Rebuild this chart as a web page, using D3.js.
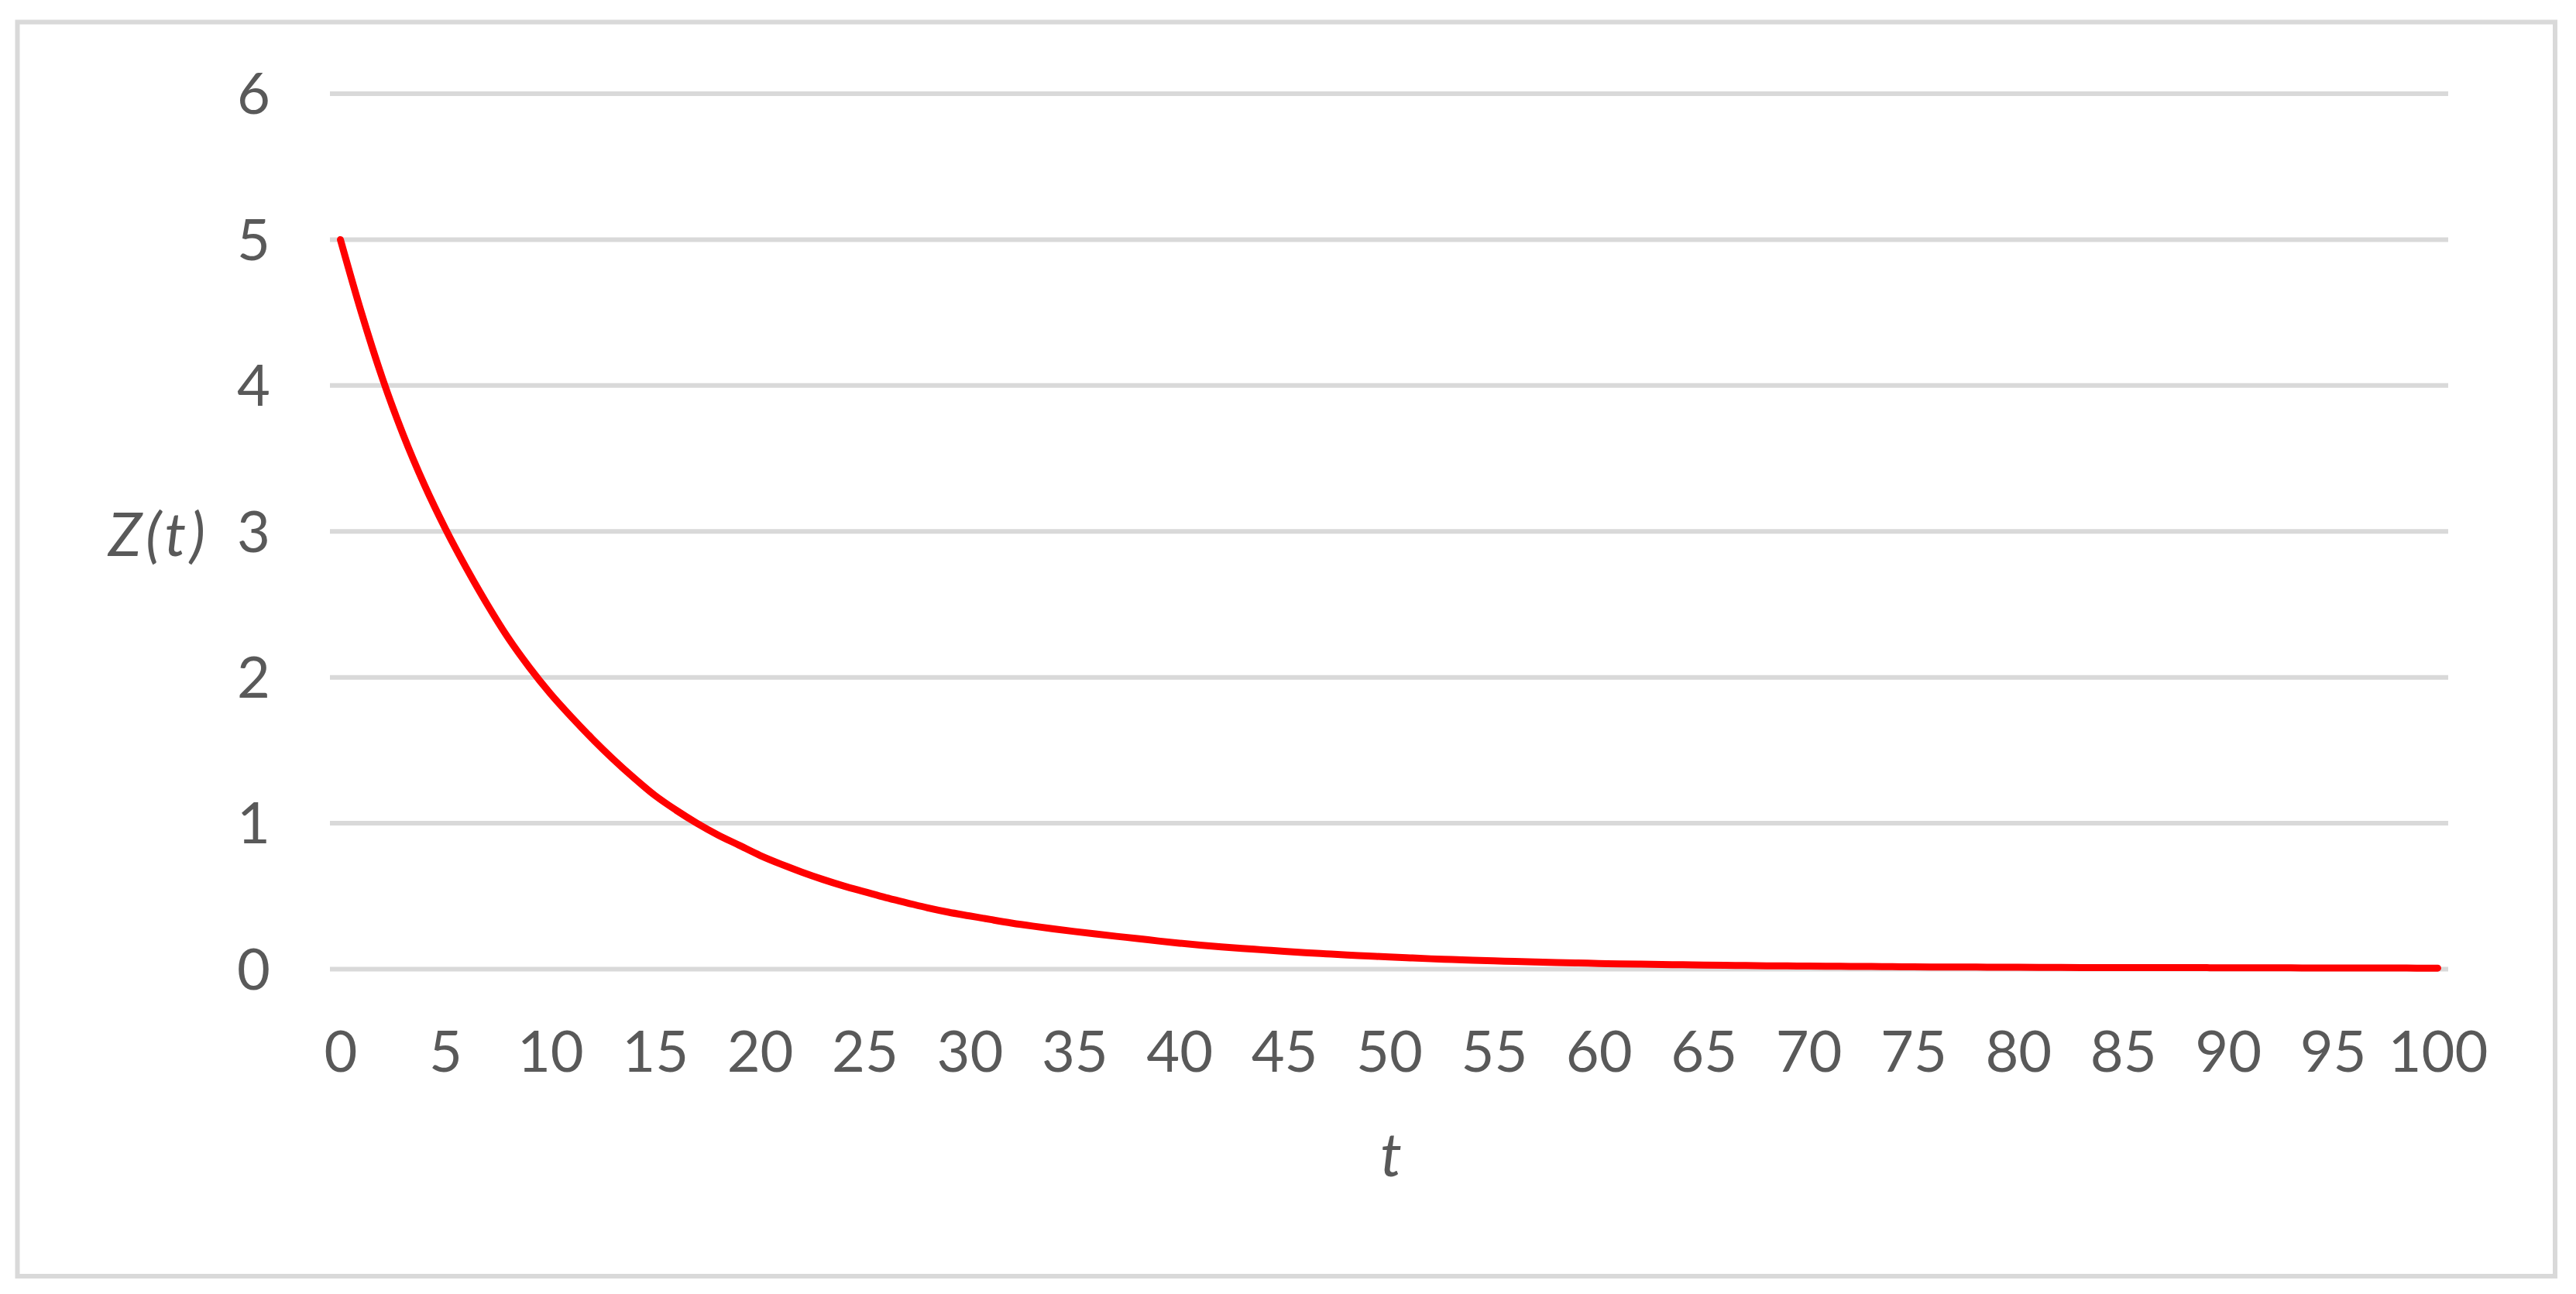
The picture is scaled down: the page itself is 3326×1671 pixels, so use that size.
<!DOCTYPE html>
<html>
<head>
<meta charset="utf-8">
<script src="https://cdn.jsdelivr.net/npm/d3@7"></script>
<style>
  html, body { margin: 0; padding: 0; background: #ffffff; }
  svg { display: block; }
  text { font-family: Lato, "Open Sans", "Noto Sans", sans-serif; fill: #595959; }
</style>
</head>
<body>
<svg id="chart" width="3326" height="1671"></svg>
<script>
// ---- data ----
const tValues = ["0","1","2","3","4","5","6","7","8","9","10","11","12","13","14","15","16","17","18","19","20",
  "21","22","23","24","25","26","27","28","29","30","31","32","33","34","35","36","37","38","39","40",
  "41","42","43","44","45","46","47","48","49","50","51","52","53","54","55","56","57","58","59","60",
  "61","62","63","64","65","66","67","68","69","70","71","72","73","74","75","76","77","78","79","80",
  "81","82","83","84","85","86","87","88","89","90","91","92","93","94","95","96","97","98","99","100"];

const zValues = [5.00, 4.50, 4.05, 3.66, 3.32, 3.02, 2.75, 2.50, 2.27, 2.07, 1.89,
  1.73, 1.58, 1.44, 1.31, 1.19, 1.09, 1.00, 0.92, 0.85, 0.78,
  0.72, 0.665, 0.615, 0.57, 0.53, 0.49, 0.455, 0.42, 0.39, 0.365,
  0.34, 0.316, 0.295, 0.276, 0.258, 0.241, 0.225, 0.210, 0.193, 0.178,
  0.165, 0.153, 0.142, 0.132, 0.122, 0.113, 0.105, 0.097, 0.090, 0.083,
  0.077, 0.071, 0.066, 0.061, 0.057, 0.053, 0.049, 0.045, 0.042, 0.039,
  0.036, 0.034, 0.032, 0.030, 0.028, 0.026, 0.025, 0.023, 0.022, 0.021,
  0.020, 0.019, 0.018, 0.017, 0.016, 0.015, 0.014, 0.014, 0.013, 0.013,
  0.012, 0.012, 0.011, 0.011, 0.011, 0.010, 0.010, 0.010, 0.010, 0.009,
  0.009, 0.009, 0.009, 0.008, 0.008, 0.008, 0.008, 0.008, 0.007, 0.007];

const xTickLabels = ["0","5","10","15","20","25","30","35","40","45","50",
  "55","60","65","70","75","80","85","90","95","100"];
const yTickValues = [0, 1, 2, 3, 4, 5, 6];
const yTitle = "Z(t)";
const xTitle = "t";

// ---- layout ----
const svg = d3.select("#chart");
const W = 3326, H = 1671;
const plot = { left: 426, right: 3161, top: 121, bottom: 1251.5 };
const fontSize = 74;

svg.append("rect").attr("x", 0).attr("y", 0).attr("width", W).attr("height", H).attr("fill", "#ffffff");

// outer chart border
svg.append("rect")
  .attr("x", 22.5).attr("y", 28.5)
  .attr("width", 3299 - 22.5).attr("height", 1648 - 28.5)
  .attr("fill", "none").attr("stroke", "#d9d9d9").attr("stroke-width", 6);

const x = d3.scalePoint().domain(tValues).range([plot.left, plot.right]).padding(0.5);
const y = d3.scaleLinear().domain([0, 6]).range([plot.bottom, plot.top]);

// gridlines
svg.append("g").selectAll("line").data(yTickValues).join("line")
  .attr("x1", plot.left).attr("x2", plot.right)
  .attr("y1", d => y(d)).attr("y2", d => y(d))
  .attr("stroke", "#d9d9d9").attr("stroke-width", 6);

// y axis
const yAxis = svg.append("g").attr("transform", `translate(${plot.left},0)`)
  .call(d3.axisLeft(y).tickValues(yTickValues).tickSize(0).tickPadding(77).tickFormat(d3.format("d")));
yAxis.select(".domain").remove();
yAxis.selectAll("text")
  .attr("dy", "0.35em")
  .style("font-family", "Lato, 'Open Sans', sans-serif")
  .style("font-size", fontSize + "px")
  .style("fill", "#595959");

// x axis
const xAxis = svg.append("g").attr("transform", `translate(0,${plot.bottom})`)
  .call(d3.axisBottom(x).tickValues(xTickLabels).tickSize(0).tickPadding(80));
xAxis.select(".domain").remove();
xAxis.selectAll("text")
  .style("font-family", "Lato, 'Open Sans', sans-serif")
  .style("font-size", fontSize + "px")
  .style("fill", "#595959");

// series line
const series = tValues.map((t, i) => ({ t, z: zValues[i] }));
svg.append("path")
  .datum(series)
  .attr("fill", "none")
  .attr("stroke", "#ff0000")
  .attr("stroke-width", 9)
  .attr("stroke-linecap", "round")
  .attr("stroke-linejoin", "round")
  .attr("d", d3.line().x(d => x(d.t)).y(d => y(d.z)).curve(d3.curveMonotoneX));

// axis titles
svg.append("text")
  .attr("x", 205).attr("y", 718)
  .attr("text-anchor", "middle")
  .style("font-style", "italic")
  .style("font-size", "78px")
  .style("letter-spacing", "5px")
  .text(yTitle);

svg.append("text")
  .attr("x", 1796).attr("y", 1519)
  .attr("text-anchor", "middle")
  .style("font-style", "italic")
  .style("font-size", "78px")
  .text(xTitle);
</script>
</body>
</html>
